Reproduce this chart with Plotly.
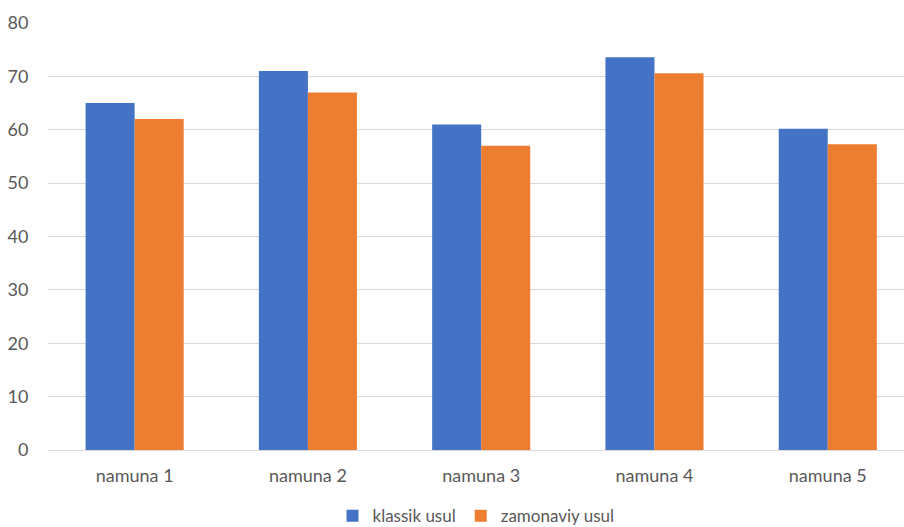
import plotly.graph_objects as go

categories = ["namuna 1", "namuna 2", "namuna 3", "namuna 4", "namuna 5"]
klassik = [65, 71, 61, 73.6, 60.2]
zamonaviy = [62, 67, 57, 70.6, 57.3]
y_ticks = [0, 10, 20, 30, 40, 50, 60, 70, 80]

fig = go.Figure()
fig.add_trace(go.Bar(x=categories, y=klassik, name="klassik usul",
                     marker=dict(color="#4472C4", line=dict(width=0))))
fig.add_trace(go.Bar(x=categories, y=zamonaviy, name="zamonaviy usul",
                     marker=dict(color="#ED7D31", line=dict(width=0))))

fig.update_layout(
    width=904, height=527,
    margin=dict(l=48, r=0, t=23, b=77, autoexpand=False),
    paper_bgcolor="white", plot_bgcolor="white",
    barmode="group", bargap=0.434, bargroupgap=0,
    font=dict(family="Lato, Open Sans, sans-serif", size=18, color="#595959"),
    xaxis=dict(range=[-0.5, 4.44], showline=True, linecolor="#D9D9D9",
               linewidth=1, ticks="outside", ticklen=9, tickcolor="white",
               automargin=False, tickfont=dict(size=18, color="#595959")),
    yaxis=dict(range=[0, 80], tickvals=y_ticks, showgrid=True,
               gridcolor="#D9D9D9", gridwidth=1, zeroline=False,
               ticks="outside", ticklen=15, tickcolor="white",
               automargin=False, tickfont=dict(size=18, color="#595959")),
    legend=dict(orientation="h", x=0.5, xanchor="center", y=-0.113, yanchor="top",
                font=dict(size=17, color="#595959"), itemwidth=30,
                tracegroupgap=0, traceorder="normal"),
    showlegend=True,
)

fig.write_html("out.html")
